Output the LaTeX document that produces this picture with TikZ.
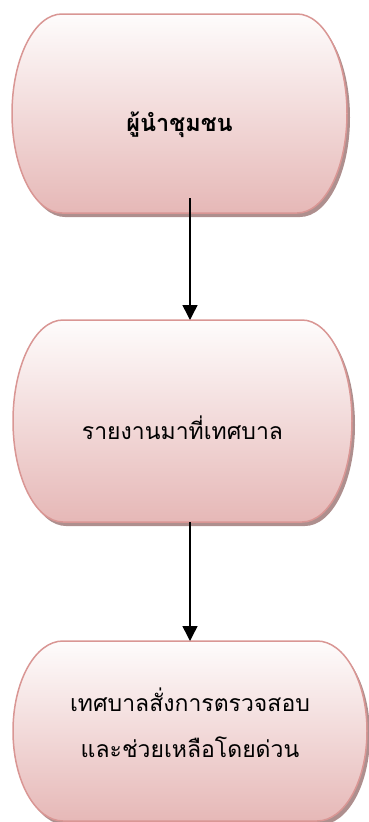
\documentclass[tikz,border=0pt]{standalone}
\usepackage{fontspec}
\newfontfamily\thaifont[Script=Thai]{Loma}
\usetikzlibrary{positioning, calc, backgrounds, shadows, arrows.meta}
\definecolor{pillborder}{HTML}{D99694}
\definecolor{pilltop}{HTML}{FEFCFC}
\definecolor{pillbottom}{HTML}{E6B8B7}
\definecolor{pillshadow}{HTML}{AE8F8E}
\tikzstyle{stage} = [rectangle, minimum width=335pt, minimum height=199pt, inner sep=0pt, outer sep=0pt, text centered, align=center, font=\thaifont\fontsize{23}{46}\selectfont]
\tikzstyle{pill} = [draw=pillborder, line width=1.5pt, top color=pilltop, bottom color=pillbottom, drop shadow={shadow xshift=3pt, shadow yshift=-4pt, fill=pillshadow, opacity=1}]
\tikzstyle{arrow} = [line width=1.5pt, -{Triangle[width=15pt,length=15pt]}]
% rounded box with elliptic ends behind a node
\newcommand{\pillshape}[1]{%
  \path[pill] let \p1 = ($(#1.north)-(#1.center)$) in
    ([xshift=50pt]#1.north west) -- ([xshift=-50pt]#1.north east)
    arc[start angle=90, end angle=-90, x radius=50pt, y radius=\y1]
    -- ([xshift=50pt]#1.south west)
    arc[start angle=270, end angle=90, x radius=50pt, y radius=\y1] -- cycle;}
% move a text up or down inside its box
\newcommand{\nudge}[2]{\raisebox{#1}[\height][\depth]{#2}}
\begin{document}
\begin{tikzpicture}
    \useasboundingbox (0,0) rectangle (369pt,-822pt);
    \node[stage, font=\thaifont\bfseries\fontsize{23.5}{46}\selectfont] (leader) at (179.5pt,-113.5pt) {\nudge{-11pt}{ผู้นำชุมชน}};
    \node[stage, minimum width=339pt, minimum height=202pt, below=107pt of leader, xshift=3pt] (report) {\nudge{-7pt}{รายงานมาที่เทศบาล}};
    \node[stage, minimum width=354pt, minimum height=180pt, below=119pt of report, xshift=7.5pt] (order) {\nudge{6pt}{\begin{tabular}{@{}c@{}}เทศบาลสั่งการตรวจสอบ\\และช่วยเหลือโดยด่วน\end{tabular}}};

    \begin{scope}[on background layer]
        \pillshape{leader}
        \pillshape{report}
        \pillshape{order}
    \end{scope}

    \draw[arrow] ([yshift=15pt]leader.south -| order.north) -- (report.north -| order.north);
    \draw[arrow] (report.south -| order.north) -- (order.north);
\end{tikzpicture}
\end{document}
